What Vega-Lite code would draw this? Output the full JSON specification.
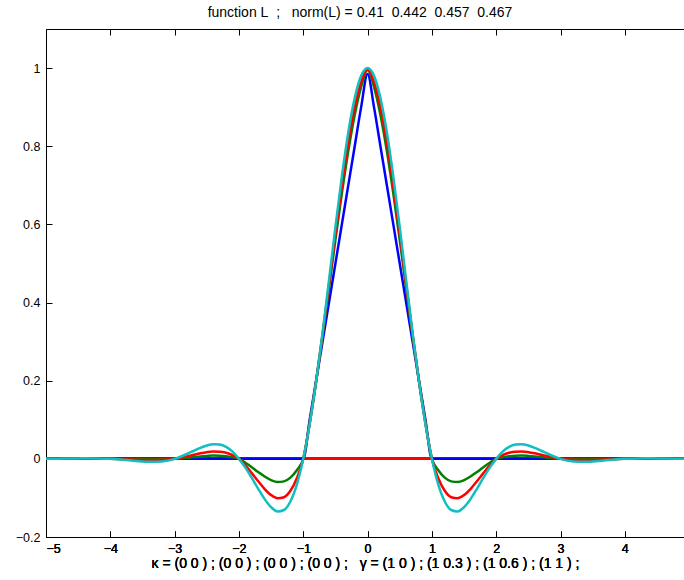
{
  "$schema": "https://vega.github.io/schema/vega-lite/v6.json",
  "width": 638,
  "height": 508,
  "autosize": {"type": "none"},
  "padding": {"left": 46, "top": 29, "right": 0, "bottom": 43},
  "background": "white",
  "config": {
    "view": {"stroke": null},
    "font": "Liberation Sans",
    "axis": {
      "grid": false,
      "domainColor": "black",
      "domainWidth": 1,
      "tickColor": "black",
      "tickWidth": 1,
      "tickSize": -6,
      "labelColor": "black",
      "labelFont": "Liberation Sans",
      "labelFontSize": 12.5,
      "titleFont": "Liberation Sans",
      "titleFontSize": 14,
      "titleFontWeight": "normal",
      "titleColor": "black"
    },
    "title": {"font": "Liberation Sans", "fontSize": 14, "fontWeight": "normal", "color": "black"}
  },
  "title": {
    "text": "function L\u00a0 ;\u00a0\u00a0 norm(L) = 0.41\u00a0 0.442\u00a0 0.457\u00a0 0.467",
    "baseline": "alphabetic",
    "offset": -2,
    "dx": -5
  },
  "data": {
    "values": [
      {"x": -5.0, "b": 0, "g": 0, "r": 0, "c": 0},
      {"x": -4.8, "b": 0, "g": 0, "r": 0.0001, "c": 0.0004},
      {"x": -4.6, "b": 0, "g": 0, "r": 0.0003, "c": 0.0009},
      {"x": -4.4, "b": 0, "g": 0.0001, "r": 0.0004, "c": 0.0013},
      {"x": -4.2, "b": 0, "g": 0, "r": 0.0003, "c": 0.0012},
      {"x": -4.0, "b": 0, "g": 0, "r": 0, "c": 0},
      {"x": -3.8, "b": 0, "g": -0.0002, "r": -0.0009, "c": -0.0024},
      {"x": -3.6, "b": 0, "g": -0.0006, "r": -0.0021, "c": -0.0055},
      {"x": -3.4, "b": 0, "g": -0.0008, "r": -0.0029, "c": -0.0077},
      {"x": -3.2, "b": 0, "g": -0.0007, "r": -0.0025, "c": -0.0065},
      {"x": -3.0, "b": 0, "g": 0, "r": 0, "c": 0},
      {"x": -2.9, "b": 0, "g": 0.0013, "r": 0.0030, "c": 0.0060},
      {"x": -2.8, "b": 0, "g": 0.0029, "r": 0.0065, "c": 0.0130},
      {"x": -2.7, "b": 0, "g": 0.0046, "r": 0.0104, "c": 0.0207},
      {"x": -2.6, "b": 0, "g": 0.0062, "r": 0.0141, "c": 0.0282},
      {"x": -2.5, "b": 0, "g": 0.0075, "r": 0.0171, "c": 0.0342},
      {"x": -2.4, "b": 0, "g": 0.0083, "r": 0.0188, "c": 0.0376},
      {"x": -2.3, "b": 0, "g": 0.0081, "r": 0.0184, "c": 0.0367},
      {"x": -2.2, "b": 0, "g": 0.0068, "r": 0.0154, "c": 0.0307},
      {"x": -2.1, "b": 0, "g": 0.0041, "r": 0.0093, "c": 0.0185},
      {"x": -2.0, "b": 0, "g": 0, "r": 0, "c": 0},
      {"x": -1.9, "b": 0, "g": -0.0099, "r": -0.0168, "c": -0.0224},
      {"x": -1.8, "b": 0, "g": -0.0215, "r": -0.0366, "c": -0.0488},
      {"x": -1.7, "b": 0, "g": -0.0337, "r": -0.0575, "c": -0.0767},
      {"x": -1.6, "b": 0, "g": -0.0453, "r": -0.0773, "c": -0.1030},
      {"x": -1.5, "b": 0, "g": -0.0544, "r": -0.0928, "c": -0.1237},
      {"x": -1.4, "b": 0, "g": -0.0592, "r": -0.1009, "c": -0.1345},
      {"x": -1.3, "b": 0, "g": -0.0576, "r": -0.0982, "c": -0.1309},
      {"x": -1.2, "b": 0, "g": -0.0480, "r": -0.0818, "c": -0.1091},
      {"x": -1.1, "b": 0, "g": -0.0290, "r": -0.0495, "c": -0.0660},
      {"x": -1.0, "b": 0, "g": 0, "r": 0, "c": 0},
      {"x": -0.9, "b": 0.1, "g": 0.0926, "r": 0.0909, "c": 0.0886},
      {"x": -0.8, "b": 0.2, "g": 0.1984, "r": 0.1981, "c": 0.1976},
      {"x": -0.7, "b": 0.3, "g": 0.3146, "r": 0.3179, "c": 0.3224},
      {"x": -0.6, "b": 0.4, "g": 0.4370, "r": 0.4455, "c": 0.4569},
      {"x": -0.5, "b": 0.5, "g": 0.5605, "r": 0.5745, "c": 0.5931},
      {"x": -0.4, "b": 0.6, "g": 0.6794, "r": 0.6978, "c": 0.7222},
      {"x": -0.3, "b": 0.7, "g": 0.7878, "r": 0.8081, "c": 0.8351},
      {"x": -0.2, "b": 0.8, "g": 0.8802, "r": 0.8987, "c": 0.9234},
      {"x": -0.1, "b": 0.9, "g": 0.9521, "r": 0.9641, "c": 0.9801},
      {"x": 0.0, "b": 0.985, "g": 0.9948, "r": 0.997, "c": 1.0},
      {"x": 0.1, "b": 0.9, "g": 0.9521, "r": 0.9641, "c": 0.9801},
      {"x": 0.2, "b": 0.8, "g": 0.8802, "r": 0.8987, "c": 0.9234},
      {"x": 0.3, "b": 0.7, "g": 0.7878, "r": 0.8081, "c": 0.8351},
      {"x": 0.4, "b": 0.6, "g": 0.6794, "r": 0.6978, "c": 0.7222},
      {"x": 0.5, "b": 0.5, "g": 0.5605, "r": 0.5745, "c": 0.5931},
      {"x": 0.6, "b": 0.4, "g": 0.4370, "r": 0.4455, "c": 0.4569},
      {"x": 0.7, "b": 0.3, "g": 0.3146, "r": 0.3179, "c": 0.3224},
      {"x": 0.8, "b": 0.2, "g": 0.1984, "r": 0.1981, "c": 0.1976},
      {"x": 0.9, "b": 0.1, "g": 0.0926, "r": 0.0909, "c": 0.0886},
      {"x": 1.0, "b": 0, "g": 0, "r": 0, "c": 0},
      {"x": 1.1, "b": 0, "g": -0.0290, "r": -0.0495, "c": -0.0660},
      {"x": 1.2, "b": 0, "g": -0.0480, "r": -0.0818, "c": -0.1091},
      {"x": 1.3, "b": 0, "g": -0.0576, "r": -0.0982, "c": -0.1309},
      {"x": 1.4, "b": 0, "g": -0.0592, "r": -0.1009, "c": -0.1345},
      {"x": 1.5, "b": 0, "g": -0.0544, "r": -0.0928, "c": -0.1237},
      {"x": 1.6, "b": 0, "g": -0.0453, "r": -0.0773, "c": -0.1030},
      {"x": 1.7, "b": 0, "g": -0.0337, "r": -0.0575, "c": -0.0767},
      {"x": 1.8, "b": 0, "g": -0.0215, "r": -0.0366, "c": -0.0488},
      {"x": 1.9, "b": 0, "g": -0.0099, "r": -0.0168, "c": -0.0224},
      {"x": 2.0, "b": 0, "g": 0, "r": 0, "c": 0},
      {"x": 2.1, "b": 0, "g": 0.0041, "r": 0.0093, "c": 0.0185},
      {"x": 2.2, "b": 0, "g": 0.0068, "r": 0.0154, "c": 0.0307},
      {"x": 2.3, "b": 0, "g": 0.0081, "r": 0.0184, "c": 0.0367},
      {"x": 2.4, "b": 0, "g": 0.0083, "r": 0.0188, "c": 0.0376},
      {"x": 2.5, "b": 0, "g": 0.0075, "r": 0.0171, "c": 0.0342},
      {"x": 2.6, "b": 0, "g": 0.0062, "r": 0.0141, "c": 0.0282},
      {"x": 2.7, "b": 0, "g": 0.0046, "r": 0.0104, "c": 0.0207},
      {"x": 2.8, "b": 0, "g": 0.0029, "r": 0.0065, "c": 0.0130},
      {"x": 2.9, "b": 0, "g": 0.0013, "r": 0.0030, "c": 0.0060},
      {"x": 3.0, "b": 0, "g": 0, "r": 0, "c": 0},
      {"x": 3.2, "b": 0, "g": -0.0007, "r": -0.0025, "c": -0.0065},
      {"x": 3.4, "b": 0, "g": -0.0008, "r": -0.0029, "c": -0.0077},
      {"x": 3.6, "b": 0, "g": -0.0006, "r": -0.0021, "c": -0.0055},
      {"x": 3.8, "b": 0, "g": -0.0002, "r": -0.0009, "c": -0.0024},
      {"x": 4.0, "b": 0, "g": 0, "r": 0, "c": 0},
      {"x": 4.2, "b": 0, "g": 0, "r": 0.0003, "c": 0.0012},
      {"x": 4.4, "b": 0, "g": 0.0001, "r": 0.0004, "c": 0.0013},
      {"x": 4.6, "b": 0, "g": 0, "r": 0.0003, "c": 0.0009},
      {"x": 4.8, "b": 0, "g": 0, "r": 0.0001, "c": 0.0004},
      {"x": 5.0, "b": 0, "g": 0, "r": 0, "c": 0}
    ]
  },
  "encoding": {
    "x": {
      "field": "x",
      "type": "quantitative",
      "scale": {"domain": [-5, 4.92], "nice": false, "zero": false},
      "axis": {
        "orient": "bottom",
        "values": [-5, -4, -3, -2, -1, 0, 1, 2, 3, 4],
        "format": "d",
        "labelPadding": 11,
        "labelBaseline": "top",
        "labelLineHeight": 11,
        "title": "\u03ba = (0 0 ) ; (0 0 ) ; (0 0 ) ; (0 0 ) ;\u00a0\u00a0 \u03b3 = (1 0 ) ; (1 0.3 ) ; (1 0.6 ) ; (1 1 ) ;",
        "titlePadding": 2
      }
    }
  },
  "layer": [
    {
      "mark": {"type": "rule", "color": "#FF0000", "strokeWidth": 2.5},
      "encoding": {"y": {"datum": 0, "type": "quantitative"}, "x": null}
    },
    {
      "mark": {"type": "line", "color": "#0000FF", "strokeWidth": 2.5, "interpolate": "monotone", "clip": true},
      "encoding": {
        "y": {
          "field": "b",
          "type": "quantitative",
          "scale": {"domain": [-0.2, 1.1], "nice": false, "zero": false},
          "axis": {"values": [-0.2, 0, 0.2, 0.4, 0.6, 0.8, 1], "format": "~g", "labelPadding": 12, "title": null}
        }
      }
    },
    {
      "mark": {"type": "line", "color": "#008000", "strokeWidth": 2.5, "interpolate": "monotone", "clip": true},
      "encoding": {"y": {"field": "g", "type": "quantitative"}}
    },
    {
      "mark": {"type": "line", "color": "#FF0000", "strokeWidth": 2.5, "interpolate": "monotone", "clip": true},
      "encoding": {"y": {"field": "r", "type": "quantitative"}}
    },
    {
      "mark": {"type": "line", "color": "#10BFBF", "strokeWidth": 2.5, "interpolate": "monotone", "clip": true},
      "encoding": {
        "y": {"field": "c", "type": "quantitative"},
        "x": {
          "field": "x",
          "type": "quantitative",
          "axis": {"orient": "top", "values": [-5, -4, -3, -2, -1, 0, 1, 2, 3, 4], "labels": false, "title": null}
        }
      }
    }
  ],
  "resolve": {"axis": {"x": "independent"}}
}
